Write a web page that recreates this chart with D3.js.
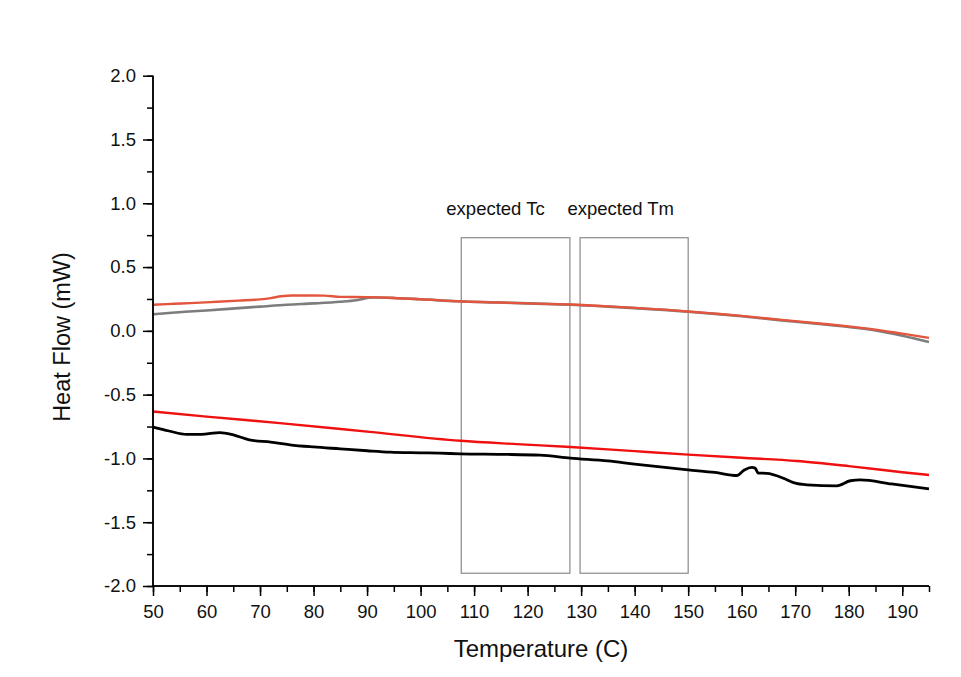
<!DOCTYPE html>
<html><head><meta charset="utf-8">
<script src="https://cdn.jsdelivr.net/npm/d3@7"></script>
<style>body{margin:0;background:#fff}svg{display:block}text{font-family:"Liberation Sans",Arial,sans-serif}</style>
</head><body>
<svg id="c" width="961" height="677"></svg>
<script>
// Series: [temperature, heat flow]
const greyTop = [[50,0.13],[56,0.15],[60,0.16],[66,0.178],[70,0.19],[75,0.205],[80,0.215],[85,0.228],[88,0.24],[91,0.262],[95,0.258],[100,0.248],[107,0.232],[115,0.222],[120,0.215],[128,0.205],[135,0.19],[140,0.178],[150,0.15],[155,0.133],[160,0.114],[167,0.084],[175,0.052],[180,0.03],[185,0.003],[190,-0.038],[195,-0.088]];
const redTop = [[50,0.205],[54,0.212],[57,0.217],[62,0.228],[66,0.237],[70,0.247],[72,0.257],[74,0.271],[76,0.277],[82,0.276],[85,0.266],[90,0.264],[95,0.258],[100,0.248],[107,0.232],[115,0.222],[120,0.215],[128,0.207],[135,0.192],[140,0.18],[150,0.152],[155,0.135],[160,0.117],[167,0.088],[175,0.056],[180,0.035],[185,0.01],[190,-0.022],[195,-0.055]];
const redLow = [[50,-0.632],[60,-0.672],[73.7,-0.723],[90,-0.79],[107.4,-0.862],[118,-0.888],[128,-0.91],[140,-0.943],[150,-0.97],[160,-0.995],[170.3,-1.02],[180,-1.06],[190,-1.108],[195,-1.13]];
const blackLow = [[50,-0.755],[53,-0.785],[56.3,-0.812],[59,-0.812],[62.5,-0.797],[65,-0.815],[68,-0.854],[72,-0.872],[75.6,-0.893],[80,-0.91],[85,-0.925],[90,-0.94],[94.3,-0.951],[100,-0.956],[103.6,-0.959],[107.4,-0.964],[115,-0.968],[122.3,-0.974],[128,-0.998],[135,-1.02],[140,-1.045],[150,-1.09],[155,-1.11],[159.1,-1.134],[160.5,-1.09],[161.9,-1.07],[162.5,-1.076],[163.1,-1.115],[164.7,-1.117],[167.8,-1.155],[169.7,-1.19],[172.2,-1.207],[177.8,-1.215],[180.3,-1.175],[182.2,-1.168],[188,-1.2],[195,-1.238]];
// Annotation boxes: [x0, x1, yTop, yBottom]
const boxes = [[107.6,127.9,0.73,-1.9],[129.8,150,0.73,-1.9]];
const boxLabels = ["expected Tc","expected Tm"];
const boxLabelX = [114.0,137.4];
const xTicks = d3.range(50,191,10);
const yTicks = [2.0,1.5,1.0,0.5,0.0,-0.5,-1.0,-1.5,-2.0];
const xLabel = "Temperature (C)";
const yLabel = "Heat Flow (mW)";

const svg = d3.select("#c");
const L=153, R=929, T=75.7, B=586;
const x = d3.scaleLinear().domain([50,195]).range([L,R]);
const y = d3.scaleLinear().domain([-2,2]).range([B,T]);

// boxes
boxes.forEach((b,i)=>{
  svg.append("rect").attr("x",x(b[0])).attr("y",y(b[2])).attr("width",x(b[1])-x(b[0])).attr("height",y(b[3])-y(b[2]))
    .attr("fill","none").attr("stroke","#8a8a8a").attr("stroke-width",1.2);
  svg.append("text").attr("x",x(boxLabelX[i])).attr("y",215).attr("text-anchor","middle").attr("font-size",18.5).attr("fill","#111").text(boxLabels[i]);
});

const line = d3.line().x(d=>x(d[0])).y(d=>y(d[1])).curve(d3.curveMonotoneX);
const draw=(data,col,w)=>svg.append("path").datum(data).attr("d",line).attr("fill","none").attr("stroke",col).attr("stroke-width",w).attr("stroke-linejoin","round");
draw(greyTop,"#7d7d7d",2.6);
draw(redTop,"#e4553d",2.4);
draw(redLow,"#f01010",2.4);
draw(blackLow,"#000",2.8);

const fmtY = d=>d3.format(".1f")(d).replace("\u2212","-");
// axes
const xAxis = svg.append("g").attr("transform",`translate(0,${B})`);
xAxis.call(d3.axisBottom(x).tickValues(d3.range(50,196,5)).tickSize(6).tickFormat(""));
xAxis.append("g").call(d3.axisBottom(x).tickValues(xTicks).tickSize(10).tickFormat(d3.format("d")));
xAxis.selectAll("path.domain").attr("stroke","#000").attr("stroke-width",1.5);
xAxis.selectAll(".tick line").attr("stroke","#000").attr("stroke-width",1.5);
xAxis.selectAll(".tick text").attr("font-size",18.5).attr("fill","#111").attr("font-family","Liberation Sans, Arial, sans-serif").attr("y",32).attr("dy",0);

const yAxis = svg.append("g").attr("transform",`translate(${L},0)`);
yAxis.call(d3.axisLeft(y).tickValues(d3.range(-2,2.01,0.25)).tickSize(6).tickFormat(""));
yAxis.append("g").call(d3.axisLeft(y).tickValues(yTicks).tickSize(10).tickFormat(fmtY));
yAxis.selectAll("path.domain").attr("stroke","#000").attr("stroke-width",1.5);
yAxis.selectAll(".tick line").attr("stroke","#000").attr("stroke-width",1.5);
yAxis.selectAll(".tick text").attr("font-size",18.5).attr("fill","#111").attr("font-family","Liberation Sans, Arial, sans-serif").attr("x",-17);
yAxis.selectAll("path.domain").attr("d",`M0,${B}V${T}`);
xAxis.selectAll("path.domain").attr("d",`M${L},0H${R}`);

svg.append("text").attr("x",541).attr("y",657).attr("text-anchor","middle").attr("font-size",24).attr("fill","#111").text(xLabel);
svg.append("text").attr("transform",`translate(70,337) rotate(-90)`).attr("text-anchor","middle").attr("font-size",23.5).attr("fill","#111").text(yLabel);
</script>
</body></html>
